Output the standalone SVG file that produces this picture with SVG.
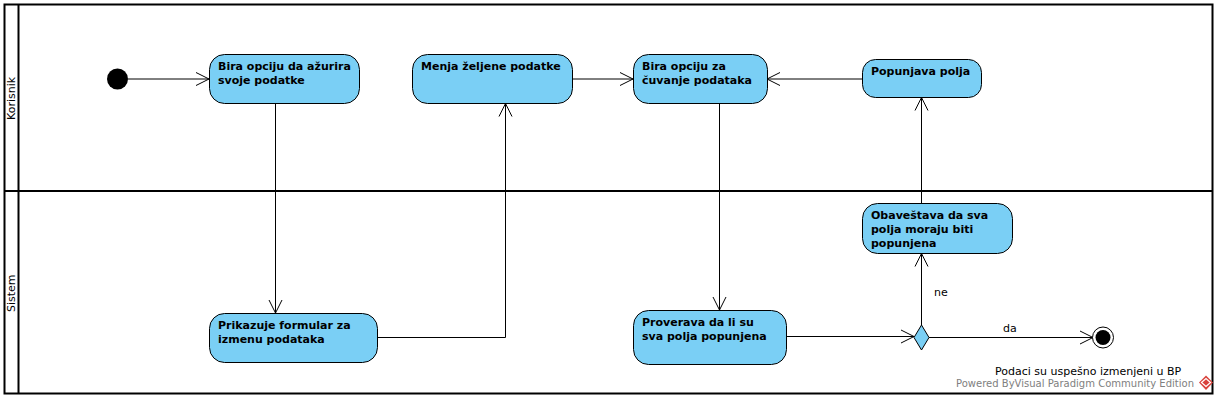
<svg xmlns="http://www.w3.org/2000/svg" width="1218" height="400" viewBox="0 0 1218 400">
<defs>
<marker id="arr" markerUnits="userSpaceOnUse" markerWidth="16" markerHeight="16" refX="13" refY="7" orient="auto" overflow="visible"><path d="M0 0.500L13 7L0 13.500" fill="none" stroke="#000" stroke-width="1"/></marker>
</defs>
<style>
text{font-family:"DejaVu Sans",sans-serif;font-size:11px;fill:#000}
.b{font-weight:bold}
.n{fill:#7acff5;stroke:#000;stroke-width:1}
.c{fill:none;stroke:#000;stroke-width:1;marker-end:url(#arr)}
.s{fill:none;stroke:#000;stroke-width:2}
</style>
<rect width="1218" height="400" fill="#fff"/>
<g id="swimlanes">
<rect class="s" x="4.500" y="4.500" width="1208" height="389"/>
<path class="s" d="M18.500 4.500V393.500M4.500 191H1212.500"/>
<text transform="translate(15,120) rotate(-90)">Korisnik</text>
<text transform="translate(15,312) rotate(-90)">Sistem</text>
</g>
<g id="connectors">
<path class="c" d="M128 79H209"/>
<path class="c" d="M275.500 103.500V313"/>
<path class="c" d="M378 337.500H505.500V103.500"/>
<path class="c" d="M572.500 79H633"/>
<path class="c" d="M862 79H767"/>
<path class="c" d="M719.500 103.500V310"/>
<path class="c" d="M787 336.500H914"/>
<path class="c" d="M921.500 325V253.500"/>
<path class="c" d="M921.500 203.500V97.500"/>
<path class="c" d="M929 337.500H1093"/>
<text x="934" y="296">ne</text>
<text x="1003" y="332">da</text>
</g>
<g id="start"><circle cx="117.500" cy="79" r="10.500" fill="#000"/></g>
<g id="n1"><rect class="n" x="209.500" y="54.500" width="150" height="49" rx="15"/><text class="b" x="218" y="70">Bira opciju da ažurira</text><text class="b" x="218" y="84">svoje podatke</text></g>
<g id="n2"><rect class="n" x="412.500" y="54.500" width="160" height="49" rx="15"/><text class="b" x="421" y="70">Menja željene podatke</text></g>
<g id="n3"><rect class="n" x="633.500" y="54.500" width="134" height="49" rx="15"/><text class="b" x="642" y="70">Bira opciju za</text><text class="b" x="642" y="84">čuvanje podataka</text></g>
<g id="n4"><rect class="n" x="862.500" y="59.500" width="119" height="38" rx="13"/><text class="b" x="871" y="75">Popunjava polja</text></g>
<g id="n5"><rect class="n" x="862.500" y="203.500" width="150" height="50" rx="15"/><text class="b" x="871" y="219">Obaveštava da sva</text><text class="b" x="871" y="233">polja moraju biti</text><text class="b" x="871" y="247">popunjena</text></g>
<g id="n6"><rect class="n" x="209.500" y="313.500" width="168" height="49" rx="15"/><text class="b" x="218" y="329">Prikazuje formular za</text><text class="b" x="218" y="343">izmenu podataka</text></g>
<g id="n7"><rect class="n" x="633.500" y="310.500" width="153" height="54" rx="15"/><text class="b" x="642" y="326">Proverava da li su</text><text class="b" x="642" y="340">sva polja popunjena</text></g>
<g id="decision"><polygon class="n" points="921.500,325 929,337.500 921.500,350 914,337.500"/></g>
<g id="end"><circle cx="1103" cy="337.500" r="10.500" fill="#fff" stroke="#000"/><circle cx="1103" cy="337.500" r="7.500" fill="#000"/>
<text x="995" y="375">Podaci su uspešno izmenjeni u BP</text></g>
<g id="watermark"><text x="956" y="387" textLength="238" lengthAdjust="spacingAndGlyphs" style="fill:#808080">Powered ByVisual Paradigm Community Edition</text>
<polygon points="1206,375.500 1213,382.500 1206,390 1199,382.500" fill="#d9423c"/><path d="M1201.500 382.500L1206 378.500L1210.500 382.500L1206 386.500Z" fill="none" stroke="#fff" stroke-width="1.200"/></g>
</svg>
